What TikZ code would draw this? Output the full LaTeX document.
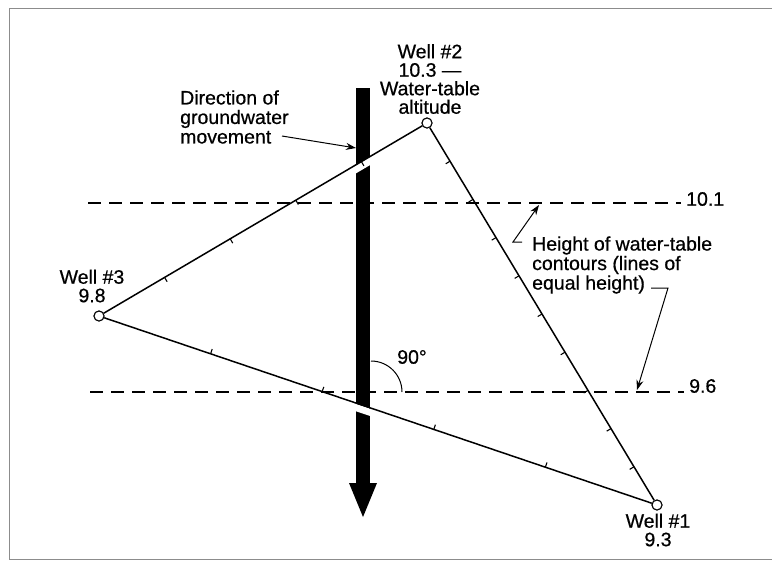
\documentclass[tikz,border=0pt]{standalone}
\usepackage{fontspec}
\setmainfont{Liberation Sans}[FakeBold=0.6]
\usetikzlibrary{calc,arrows.meta}
\begin{document}
\begin{tikzpicture}[x=1pt,y=-1pt,
  lbl/.style={font=\fontsize{19.5}{18.5}\selectfont, inner sep=0pt, align=center},
  lbll/.style={font=\fontsize{19.5}{19.5}\selectfont, inner sep=0pt, align=left},
  well/.style={circle, draw, fill=white, line width=1pt, minimum size=10pt, inner sep=0pt},
  side/.style={line width=1.5pt},
  tickmark/.style={line width=1.1pt},
  contour/.style={line width=1.1pt, dash pattern=on 13pt off 8pt},
  pointer/.style={line width=1pt, -{Stealth[length=10pt,width=7pt]}},
  frame/.style={draw=black!45, line width=1pt}
]
\useasboundingbox (0,0) rectangle (772,565);
% frame
\draw[frame] (772,8) -- (9,8) -- (9,559) -- (772,559);

% wells
\node[well] (w1) at (657,505) {};
\node[well] (w2) at (427,123) {};
\node[well] (w3) at (99,316) {};

% flow arrow (thick shaft with head)
\fill (356,88) rectangle (370,485);
\fill (349,483) -- (377,483) -- (363,517) -- cycle;
\begin{scope}
  \clip (354,80) rectangle (372,490);
  \draw[white, line width=7pt] ($(w3.center)+(0,4.5)$) -- ($(w2.center)+(0,4.5)$);
  \draw[white, line width=7pt] ($(w3.center)+(0,4.5)$) -- ($(w1.center)+(0,4.5)$);
\end{scope}

% triangle
\draw[side] (w3) -- (w2);
\draw[side] (w2) -- (w1);
\draw[side] (w1) -- (w3);

% ticks (0.1 intervals)
\foreach \t in {0.2,0.4,0.6,0.8}{
  \path ($(w3.center)!\t!(w2.center)$) coordinate (ta);
  \draw[tickmark] (ta) -- ($(ta)!5pt!-90:(w2.center)$);
  \path ($(w1.center)!\t!(w3.center)$) coordinate (tb);
  \draw[tickmark] (tb) -- ($(tb)!5pt!-90:(w3.center)$);
}
\foreach \t in {0.1,0.2,...,0.9}{
  \path ($(w2.center)!\t!(w1.center)$) coordinate (tc);
  \draw[tickmark] (tc) -- ($(tc)!5pt!-90:(w1.center)$);
}

% redraw wells on top
\node[well] at (w1.center) {};
\node[well] at (w2.center) {};
\node[well] at (w3.center) {};

% contours
\coordinate (c1a) at (88,203);
\coordinate (c1b) at (681,203);
\coordinate (c2a) at (90,392);
\coordinate (c2b) at (684,392);
\draw[contour] (c1a) -- (c1b);
\draw[contour] (c2a) -- (c2b);
\node[lbl, anchor=west] (l101) at (686,199) {10.1};
\node[lbl, anchor=west] (l96) at (689,386) {9.6};

% right angle
\draw[line width=1pt] (402,392) arc[start angle=0, end angle=-90, radius=31];
\node[lbl] (ang) at (412,357) {90°};

% labels
\node[lbl] (t2) at (430,79) {Well \#2\\10.3 —\\Water-table\\altitude};
\node[lbl] (t3) at (92,286) {Well \#3\\9.8};
\node[lbl] (t1) at (658,530) {Well \#1\\9.3};
\node[lbll, anchor=west] (tdir) at (180,117) {Direction of\\groundwater\\movement};
\node[lbll, anchor=west] (thgt) at (532,265) {Height of water-table\\contours (lines of\\equal height)};

% pointers
\coordinate (pd0) at (282,136);
\coordinate (pd1) at (356,148);
\draw[pointer] (pd0) -- (pd1);
\coordinate (ph0) at (522,242);
\coordinate (ph1) at (513,242);
\coordinate (ph2) at (539,205);
\draw[pointer] (ph0) -- (ph1) -- (ph2);
\coordinate (pe0) at (651,288);
\coordinate (pe1) at (668,288);
\coordinate (pe2) at (637,390);
\draw[pointer] (pe0) -- (pe1) -- (pe2);
\end{tikzpicture}
\end{document}
